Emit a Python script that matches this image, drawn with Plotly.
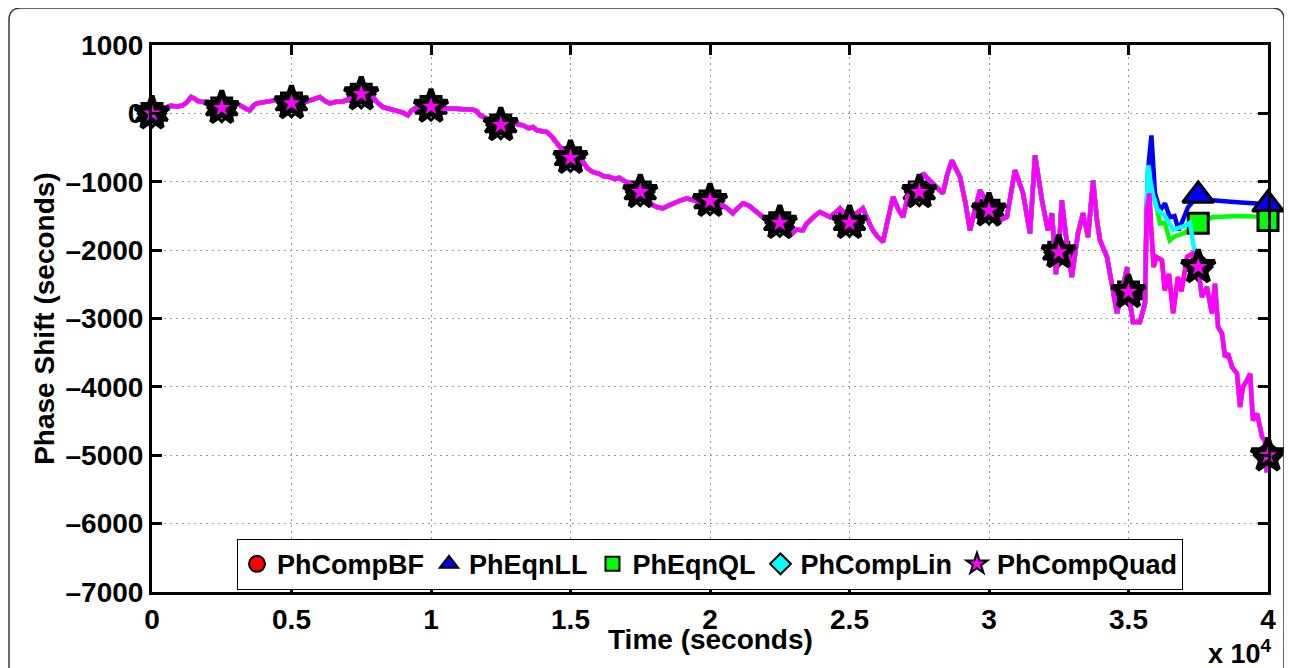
import plotly.graph_objects as go

# ---------------- data ----------------
# shared path of all five series up to ~35.6 ks
t_common = [0, 250, 500, 650, 900, 1100, 1250, 1400, 1500, 1650, 1830, 2000, 2200, 2500, 2700,
            2900, 3040, 3250, 3400, 3510, 3650, 3760, 4000, 4230, 4400, 4590, 4800, 5000, 5200,
            5400, 5550, 5800, 6020, 6200, 6380, 6600, 6850, 7000, 7170, 7350, 7500, 7700, 7920,
            8100, 8280, 8500, 8780, 9000, 9170, 9300, 9500, 9750, 10000, 10200, 10430, 10700,
            10930, 11200, 11500, 11650, 11760, 11900, 12110, 12300, 12500, 12700, 12940, 13100,
            13300, 13500, 13650, 13800, 14000, 14160, 14350, 14520, 14750, 15000, 15200, 15450,
            15600, 15800, 16000, 16200, 16410, 16600, 16750, 16880, 17100, 17300, 17500, 17700,
            17960, 18100, 18310, 18500, 18670, 18900, 19170, 19400, 19640, 19800, 20000, 20200,
            20460, 20650, 20820, 20950, 21070, 21190, 21400, 21680, 21850, 22040, 22250, 22500,
            22700, 22870, 23100, 23330, 23450, 23580, 23750, 23940, 24100, 24300, 24500, 24660,
            24800, 25000, 25200, 25480, 25650, 25840, 26000, 26200, 26350, 26560, 26750, 26920,
            27100, 27270, 27500, 27630, 27800, 27990, 28150, 28350, 28500, 28670, 28800, 28960,
            29150, 29320, 29500, 29680, 29850, 30000, 30280, 30450, 30640, 30800, 30930, 31080,
            31220, 31470, 31650, 31900, 32110, 32260, 32400, 32500, 32610, 32790, 32970, 33190,
            33370, 33550, 33730, 33870, 33980, 34230, 34440, 34590, 34800, 34950, 35000, 35160,
            35410, 35590]
y_common = [0, 40, 90, 110, 100, 117, 160, 240, 220, 180, 165, 170, 130, 80, 110,
            150, 146, 90, 60, 44, 120, 146, 160, 175, 190, 219, 180, 150, 190,
            170, 175, 210, 238, 180, 146, 170, 175, 200, 238, 260, 280, 270, 238,
            150, 92, 70, 44, 10, -29, 40, 92, 90, 100, 60, 73, 70,
            58, 60, 53, 30, -29, -60, -102, -130, -170, -120, -130, -160,
            -175, -220, -200, -248, -260, -273, -350, -439, -560, -650, -690, -711,
            -800, -858, -880, -920, -931, -960, -940, -980, -1020, -1080, -1150, -1250,
            -1345, -1370, -1389, -1350, -1316, -1280, -1243, -1270, -1297, -1250, -1280, -1300,
            -1345, -1400, -1462, -1400, -1360, -1316, -1350, -1443, -1500, -1565, -1540, -1600,
            -1700, -1784, -1700, -1711, -1620, -1565, -1500, -1443, -1480, -1516, -1450, -1389,
            -1450, -1600, -1480, -1389, -1550, -1711, -1800, -1881, -1600, -1223, -1400, -1516,
            -1200, -1024, -1150, -877, -950, -1024, -1100, -1170, -900, -687, -800, -926,
            -1300, -1711, -1400, -1121, -1250, -1418, -1608, -1550, -1516, -1100, -833, -1000,
            -1170, -1754, -614, -1272, -1711, -1462, -2350, -2030, -1272, -1900, -2393, -1754,
            -1462, -1808, -980, -1565, -1857, -2101, -2539, -2924, -2539, -2250, -2612, -3050,
            -3050, -2778]

# tails where the series separate
t_quad_tail = [35650, 35750, 35800, 35900, 36000, 36200, 36300, 36450, 36600, 36770, 36900, 37100,
               37300, 37500, 37630, 37810, 37990, 38100, 38210, 38350, 38460, 38570, 38710, 38890,
               39000, 39100, 39250, 39360, 39460, 39610, 39790, 39890, 39950, 40000]
y_quad_tail = [-1418, -1170, -1608, -2247, -2100, -2150, -2588, -2350, -2924, -2393, -2600, -2100,
               -2050, -2247, -2685, -2539, -2924, -2490, -3124, -3216, -3563, -3514, -3709, -3807,
               -4294, -4001, -3904, -3807, -4489, -4391, -4732, -4781, -5250, -5000]

t_lin_tail = [35650, 35700, 35800, 35880, 36020, 36300, 36600, 37000, 37200, 37300, 37400, 37500,
              37630, 37810, 37990, 38100, 38210, 38350, 38460, 38570, 38710, 38890, 39000, 39100,
              39250, 39360, 39460, 39610, 39790, 39890, 39950, 40000]
y_lin_tail = [-1418, -760, -1024, -1200, -1400, -1500, -1700, -1650, -1600, -1900, -2100, -2247,
              -2685, -2539, -2924, -2490, -3124, -3216, -3563, -3514, -3709, -3807, -4294, -4001,
              -3904, -3807, -4489, -4391, -4732, -4781, -5250, -5000]

t_ll_tail = [35650, 35700, 35820, 35950, 36130, 36310, 36480, 36650, 36800, 36950, 37130, 37500,
             38000, 38900, 39600, 40000]
y_ll_tail = [-1418, -833, -322, -1170, -1418, -1316, -1520, -1500, -1710, -1550, -1374, -1200,
             -1272, -1300, -1320, -1330]

t_ql_tail = [35650, 35700, 35950, 36130, 36300, 36480, 36650, 36800, 37000, 37130, 37500,
             38000, 38900, 39600, 40000]
y_ql_tail = [-1418, -1100, -1272, -1610, -1600, -1857, -1800, -1780, -1750, -1710, -1608,
             -1520, -1500, -1510, -1565]

series_names = ["PhCompBF", "PhEqnLL", "PhEqnQL", "PhCompLin", "PhCompQuad"]
series_colors = ["#FF0000", "#0000FF", "#00FF00", "#00FFFF", "#FF00FF"]
series_symbols = ["circle", "triangle-up", "square", "diamond", "star"]

marker_t = [0, 2500, 5000, 7500, 10000, 12500, 15000, 17500, 20000, 22500, 25000, 27500,
            30000, 32500, 35000, 37500, 40000]

x_tick_vals = [0, 5000, 10000, 15000, 20000, 25000, 30000, 35000, 40000]
x_tick_text = ["0", "0.5", "1", "1.5", "2", "2.5", "3", "3.5", "4"]
y_tick_vals = [-7000, -6000, -5000, -4000, -3000, -2000, -1000, 0, 1000]
y_tick_text = ["\u20137000", "\u20136000", "\u20135000", "\u20134000", "\u20133000",
               "\u20132000", "\u20131000", "0", "1000"]

# ---------------- build series ----------------
series = {
    "PhCompBF": (t_common + t_quad_tail, y_common + y_quad_tail),
    "PhEqnLL": (t_common + t_ll_tail, y_common + y_ll_tail),
    "PhEqnQL": (t_common + t_ql_tail, y_common + y_ql_tail),
    "PhCompLin": (t_common + t_lin_tail, y_common + y_lin_tail),
    "PhCompQuad": (t_common + t_quad_tail, y_common + y_quad_tail),
}

FONT = "Liberation Sans, Arial, sans-serif"
plot_msize = {"circle": 20, "triangle-up": 27, "square": 20, "diamond": 21, "star": 25}
plot_mlw = {"circle": 3, "triangle-up": 3, "square": 3, "diamond": 3, "star": 5}
leg_msize = {"circle": 18, "triangle-up": 19, "square": 14, "diamond": 17, "star": 17}

fig = go.Figure()
for name, color, sym in zip(series_names, series_colors, series_symbols):
    tx, ty = series[name]
    lookup = dict(zip(tx, ty))
    fig.add_trace(go.Scatter(x=tx, y=ty, mode="lines", line=dict(color=color, width=4.5),
                             showlegend=False, legendgroup=name, hoverinfo="skip"))
    fig.add_trace(go.Scatter(x=marker_t, y=[lookup[t] for t in marker_t], mode="markers",
                             name=name, legendgroup=name, cliponaxis=False, showlegend=False,
                             marker=dict(symbol=sym, size=plot_msize[sym], color=color,
                                         line=dict(color="black", width=plot_mlw[sym]))))
# legend entries (marker only, as in the reference legend)
for name, color, sym in zip(series_names, series_colors, series_symbols):
    fig.add_trace(go.Scatter(x=[None], y=[None], mode="markers", name=name, legendgroup=name,
                             marker=dict(symbol=sym, size=leg_msize[sym], color=color,
                                         line=dict(color="black", width=2))))

axis_common = dict(showline=True, linewidth=3, linecolor="black", mirror="ticks",
                   ticks="inside", ticklen=10, tickwidth=3, tickcolor="black",
                   showgrid=True, gridcolor="#999999", gridwidth=1.4, griddash="2px,4px",
                   zeroline=False,
                   tickfont=dict(family=FONT, size=28, color="black", weight="bold"))

fig.update_xaxes(range=[0, 40000], tickmode="array", tickvals=x_tick_vals, ticktext=x_tick_text,
                 ticklabelstandoff=0, **axis_common)
fig.update_yaxes(range=[-7000, 1000], tickmode="array", tickvals=y_tick_vals, ticktext=y_tick_text,
                 ticklabelstandoff=0, **axis_common)

# outer rounded frame (paper coordinates relative to the plot area)
x0, x1 = (9 - 152) / 1116, (1284 - 152) / 1116
yt, yb = (592 - 8) / 547, (592 - 700) / 547
rx, ry = 12 / 1116, 12 / 547
frame = (f"M {x0},{yb} L {x0},{yt - ry} Q {x0},{yt} {x0 + rx},{yt} "
         f"L {x1 - rx},{yt} Q {x1},{yt} {x1},{yt - ry} L {x1},{yb}")

# page body has an 8 px margin, so the figure is laid out 8 px smaller/offset
fig.update_layout(
    width=1284, height=660,
    margin=dict(l=144, r=24, t=37, b=76),
    plot_bgcolor="white", paper_bgcolor="white",
    font=dict(family=FONT, color="black"),
    showlegend=True,
    legend=dict(orientation="h", x=0.5, xanchor="center", y=0.004, yanchor="bottom",
                bgcolor="white", bordercolor="black", borderwidth=1,
                font=dict(family=FONT, size=27, color="black", weight="bold"),
                itemwidth=30, tracegroupgap=0),
    shapes=[dict(type="path", xref="paper", yref="paper", path=frame,
                 line=dict(color="#3a3a3a", width=1.5))],
    annotations=[
        dict(text="Time (seconds)", xref="paper", yref="paper", x=0.5, y=-0.087,
             xanchor="center", yanchor="middle", showarrow=False,
             font=dict(family=FONT, size=28, color="black", weight="bold")),
        dict(text="Phase Shift (seconds)", xref="paper", yref="paper", x=-0.096, y=0.501,
             xanchor="center", yanchor="middle", textangle=-90, showarrow=False,
             font=dict(family=FONT, size=28, color="black", weight="bold")),
        dict(text="x 10<sup>4</sup>", xref="paper", yref="paper", x=0.975, y=-0.11,
             xanchor="center", yanchor="middle", showarrow=False,
             font=dict(family=FONT, size=27, color="black", weight="bold")),
    ],
)

fig.write_html("out.html")
